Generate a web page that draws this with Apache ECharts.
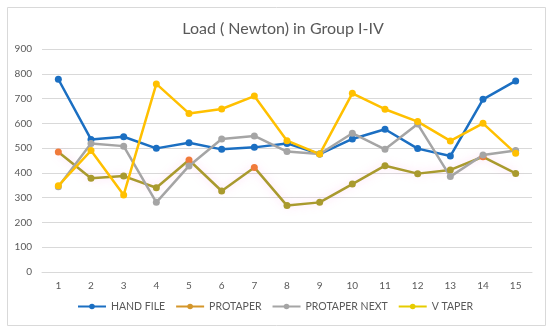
<!DOCTYPE html>
<html><head><meta charset="utf-8">
<script src="https://cdn.jsdelivr.net/npm/echarts@6/dist/echarts.min.js"></script>
<style>html,body{margin:0;padding:0;background:#fff}#c{width:550px;height:333px}</style>
</head><body><div id="c"></div>
<script>
var categories = ['1','2','3','4','5','6','7','8','9','10','11','12','13','14','15'];
var handFile = [778, 535, 546, 499, 522, 495, 503, 519, 476, 537, 576, 498, 468, 697, 771];
var protaper = [484, 378, 387, 340, 452, 327, 422, 268, 281, 355, 429, 397, 412, 465, 398];
var protaperNext = [344, 519, 508, 281, 428, 537, 549, 486, 476, 560, 495, 597, 385, 472, 490];
var vTaper = [348, 490, 311, 759, 640, 658, 710, 530, 476, 721, 657, 607, 529, 600, 479];
var seriesNames = ['HAND FILE', 'PROTAPER', 'PROTAPER NEXT', 'V TAPER'];
var orangePts = [0, 4, 6, 13];

var chart = echarts.init(document.getElementById('c'), null, {renderer: 'canvas'});
var font = 'Lato, "Open Sans", sans-serif';
function lineSeries(name, data, color, extra) {
  var s = {
    name: name, type: 'line', data: data, symbol: 'circle', symbolSize: 7,
    lineStyle: {width: 2.5, color: color}, itemStyle: {color: color},
    emphasis: {disabled: true}, animation: false
  };
  if (extra) Object.assign(s, extra);
  return s;
}
chart.setOption({
  backgroundColor: '#fff',
  animation: false,
  graphic: [{type: 'rect', shape: {x: 7.5, y: 7.5, width: 538, height: 318}, style: {fill: 'none', stroke: '#d9d9d9', lineWidth: 1}, z: -1}],
  title: {text: 'Load ( Newton) in Group I-IV', left: 278, top: 16, textAlign: 'center',
    textStyle: {fontFamily: font, fontSize: 16, fontWeight: 'normal', color: '#595959'}},
  grid: {left: 42, right: 18, top: 49, bottom: 61},
  xAxis: {type: 'category', data: categories, boundaryGap: true,
    axisLine: {show: true, lineStyle: {color: '#d9d9d9'}}, axisTick: {show: false},
    axisLabel: {margin: 9, fontFamily: font, fontSize: 10, color: '#595959'}},
  yAxis: {type: 'value', min: 0, max: 900, interval: 100,
    axisLine: {show: false}, axisTick: {show: false},
    splitLine: {lineStyle: {color: '#d9d9d9', width: 1}},
    axisLabel: {margin: 10, fontFamily: font, fontSize: 10, color: '#595959'}},
  legend: {bottom: 16, left: 'center', itemWidth: 28, itemHeight: 7, itemGap: 10,
    textStyle: {fontFamily: font, fontSize: 10.5, color: '#595959'},
    data: [
      {name: 'HAND FILE'},
      {name: 'PROTAPER', itemStyle: {color: '#d4962a'}, lineStyle: {color: '#d4962a'}},
      {name: 'PROTAPER NEXT'},
      {name: 'V TAPER', itemStyle: {color: '#e6cc00'}, lineStyle: {color: '#e6cc00'}}
    ]},
  series: [
    lineSeries(seriesNames[0], handFile, '#1b6fc2'),
    lineSeries(seriesNames[1], protaper, '#a99a2e', {
      lineStyle: {width: 2.5, color: '#a99a2e', shadowColor: 'rgba(255,140,220,0.35)', shadowBlur: 8},
      itemStyle: {color: function (p) { return orangePts.indexOf(p.dataIndex) >= 0 ? '#f07a3a' : '#a99a2e'; }}
    }),
    lineSeries(seriesNames[2], protaperNext, '#a5a5a5'),
    lineSeries(seriesNames[3], vTaper, '#ffc000')
  ]
});
</script></body></html>
